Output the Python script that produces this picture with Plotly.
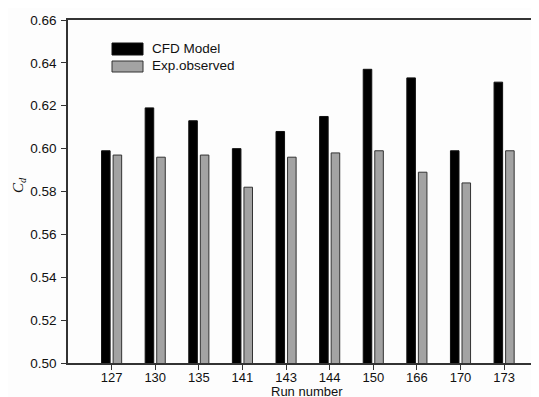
import plotly.graph_objects as go

runs = ["127", "130", "135", "141", "143", "144", "150", "166", "170", "173"]
cfd_model = [0.599, 0.619, 0.613, 0.600, 0.608, 0.615, 0.637, 0.633, 0.599, 0.631]
exp_observed = [0.597, 0.596, 0.597, 0.582, 0.596, 0.598, 0.599, 0.589, 0.584, 0.599]
series_names = ["CFD Model", "Exp.observed"]

# the page body has an 8px margin, so the figure is shrunk by 8px and all
# pixel positions below are given in window coordinates
OFF = 8
W, H = 539 - OFF, 397 - OFF
PL, PT, PB = 68, 20, 363          # plot-area edges in window pixels
ml, mr, mt = PL - OFF, 0, PT - OFF
mb = (397) - PB
pw, ph = W - ml - mr, H - mt - mb

def px_x(x):
    return (x - PL) / pw

def px_y(y):
    return (PB - y) / ph

font = "Liberation Sans, Arial, sans-serif"

fig = go.Figure()
fig.add_trace(go.Bar(x=runs, y=cfd_model, name=series_names[0],
                     marker=dict(color="#000000", line=dict(color="#111111", width=1)),
                     showlegend=False))
fig.add_trace(go.Bar(x=runs, y=exp_observed, name=series_names[1],
                     marker=dict(color="#a3a3a3", line=dict(color="#333333", width=1)),
                     showlegend=False))

shapes = [
    dict(type="rect", xref="paper", yref="paper",
         x0=px_x(112), x1=px_x(143), y0=px_y(55), y1=px_y(43),
         fillcolor="#000000", line=dict(color="#111111", width=1)),
    dict(type="rect", xref="paper", yref="paper",
         x0=px_x(112), x1=px_x(143), y0=px_y(72), y1=px_y(61),
         fillcolor="#a3a3a3", line=dict(color="#333333", width=1)),
]
annotations = [
    dict(text=series_names[0], xref="paper", yref="paper", x=px_x(150), y=px_y(49),
         xanchor="left", yanchor="middle", showarrow=False,
         font=dict(family=font, size=13.5, color="#111111")),
    dict(text=series_names[1], xref="paper", yref="paper", x=px_x(150), y=px_y(66),
         xanchor="left", yanchor="middle", showarrow=False,
         font=dict(family=font, size=13.5, color="#111111")),
    dict(text="Run number", xref="paper", yref="paper", x=px_x(307), y=px_y(391),
         xanchor="center", yanchor="middle", showarrow=False,
         font=dict(family=font, size=13, color="#111111")),
    dict(text="<i>C<sub>d</sub></i>", xref="paper", yref="paper", x=px_x(19), y=px_y(185),
         xanchor="center", yanchor="middle", showarrow=False, textangle=-90,
         font=dict(family="Liberation Serif, Times New Roman, serif", size=15, color="#111111")),
]

fig.update_layout(
    width=W, height=H,
    margin=dict(l=ml, r=mr, t=mt, b=mb, pad=0, autoexpand=False),
    paper_bgcolor="#fdfdfd", plot_bgcolor="#fdfdfd",
    barmode="group", bargap=0.47, bargroupgap=0.26,
    shapes=shapes, annotations=annotations,
    font=dict(family=font, size=12, color="#111111"),
    xaxis=dict(type="category", range=[-1, 9.8], showgrid=False, zeroline=False,
               automargin=False,
               showline=True, linecolor="#333333", linewidth=1.5, mirror=True,
               ticks="outside", ticklen=5, tickwidth=1.2, tickcolor="#333333",
               ticklabelstandoff=-3,
               tickfont=dict(size=13)),
    yaxis=dict(range=[0.5, 0.66], dtick=0.02, tick0=0.5, tickformat=".2f",
               showgrid=False, zeroline=False, automargin=False,
               showline=True, linecolor="#333333", linewidth=1.5, mirror=False,
               ticks="outside", ticklen=5, tickwidth=1.2, tickcolor="#333333",
               ticklabelstandoff=2,
               tickfont=dict(size=13.5)),
)

fig.write_html("out.html")
